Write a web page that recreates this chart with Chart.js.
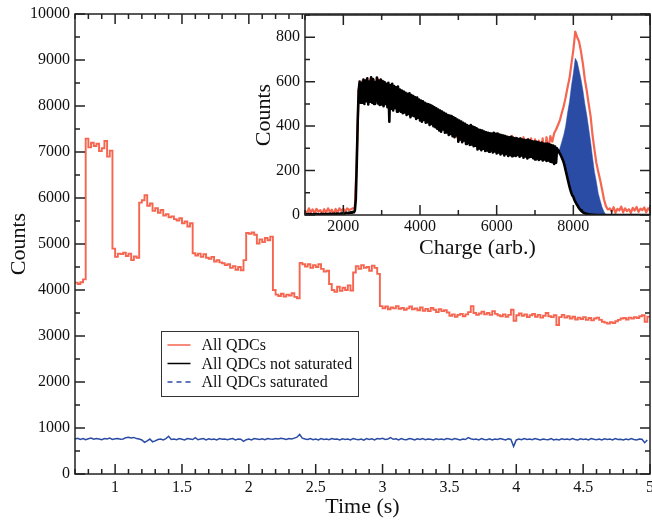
<!DOCTYPE html>
<html>
<head>
<meta charset="utf-8">
<script src="https://cdn.jsdelivr.net/npm/chart.js@4.4.0/dist/chart.umd.min.js"></script>
<style>
  body { margin: 0; background: #fff; }
  #wrap { position: relative; width: 652px; height: 521px; }
  canvas { position: absolute; top: 0; }
</style>
</head>
<body>
<div id="wrap">
  <canvas id="mainChart" width="652" height="521" style="left:0;width:652px;height:521px"></canvas>
  <canvas id="insetChart" width="406" height="262" style="left:246px;width:406px;height:262px"></canvas>
</div>
<script>
// main panel: counts per 0.02 s bin, first bin starts at 0.70 s
const binStart = 0.7;
const binWidth = 0.02;
const allQdcs = [
    4160, 4130, 4170, 4230, 7290, 7100, 7200, 7130, 7180, 7020,
    7080, 7240, 6900, 7030, 4900, 4720, 4790, 4780, 4810, 4740,
    4790, 4650, 4730, 4700, 5900, 5950, 6060, 5830, 5880, 5720,
    5780, 5680, 5740, 5620, 5650, 5580, 5600, 5540, 5510, 5560,
    5450, 5490, 5380, 5450, 4800, 4750, 4790, 4720, 4780, 4700,
    4680, 4720, 4620, 4650, 4600, 4580, 4540, 4560, 4480, 4520,
    4440, 4500, 4430, 4650, 5240, 5220, 5250, 5200, 5010, 5100,
    5040, 5130, 5080, 5160, 4000, 3900, 3870, 3920, 3860, 3900,
    3880, 3930, 3850, 3820, 4590, 4560, 4510, 4560, 4480, 4540,
    4500, 4560, 4460, 4400, 4420, 4130, 4000, 3960, 4070, 3980,
    4050, 4000, 4100, 3990, 4380, 4520, 4460, 4540, 4480, 4500,
    4420, 4530, 4480, 4350, 3650, 3600, 3640, 3580, 3620, 3600,
    3650, 3590, 3610, 3570, 3600, 3640, 3580, 3600, 3560, 3620,
    3550, 3590, 3540, 3610, 3570, 3520, 3580, 3540, 3560, 3510,
    3440, 3470, 3420, 3460, 3480, 3430, 3470, 3520, 3650, 3500,
    3460, 3490, 3530, 3470, 3500, 3460, 3540, 3480, 3450, 3430,
    3470, 3420, 3460, 3570, 3330, 3450, 3490, 3440, 3470, 3410,
    3450, 3480, 3420, 3460, 3400, 3440, 3500, 3430, 3410, 3450,
    3240, 3410, 3460, 3400, 3430, 3380, 3420, 3360, 3400, 3370,
    3410, 3350, 3390, 3340, 3380, 3400, 3350, 3310, 3290, 3270,
    3300, 3280, 3320, 3350, 3380, 3390, 3360, 3400, 3380, 3410,
    3390, 3430, 3450, 3310, 3420
];
const saturated = [
    760, 775, 750, 770, 745, 765, 780, 755, 770, 760,
    745, 770, 760, 780, 750, 765, 770, 755, 760, 790,
    800, 785, 795, 770, 760, 740, 690, 720, 760, 700,
    720, 750, 760, 740, 770, 820, 750, 760, 745, 770,
    755, 740, 770, 760, 750, 790, 745, 760, 770, 740,
    765, 750, 760, 740, 770, 755, 760, 745, 760, 770,
    740, 760, 755, 710, 745, 760, 740, 770, 760, 750,
    765, 745, 770, 760, 755, 770, 760, 775, 765, 750,
    770, 760, 780, 800, 860, 780, 760, 750, 770, 745,
    760, 740, 770, 750, 760, 745, 770, 755, 760, 740,
    765, 750, 760, 740, 770, 755, 745, 760, 735, 770,
    750, 765, 740, 770, 760, 775, 750, 760, 790, 755,
    765, 740, 770, 750, 745, 770, 760, 740, 765, 750,
    770, 745, 760, 755, 740, 765, 750, 760, 745, 770,
    760, 745, 770, 755, 740, 760, 750, 790, 765, 750,
    760, 740, 770, 750, 745, 765, 740, 760, 750, 770,
    755, 740, 765, 750, 600, 740, 760, 745, 770, 750,
    760, 745, 770, 755, 740, 760, 750, 745, 770, 740,
    755, 740, 765, 750, 760, 745, 770, 750, 740, 765,
    750, 760, 740, 770, 755, 745, 760, 740, 765, 750,
    760, 740, 770, 750, 755, 740, 760, 745, 770, 750,
    740, 760, 755, 680, 740
];
const notSaturated = []; // only in the key on the main panel

const timeTicks = [1, 1.5, 2, 2.5, 3, 3.5, 4, 4.5, 5];
const countTicks = [0, 1000, 2000, 3000, 4000, 5000, 6000, 7000, 8000, 9000, 10000];

// inset: charge spectra
// all QDCs, 50 unit bins from 1000
const chargeStart = 1000;
const allWidth = 50;
const specAll = [
    20, 5, 30, 12, 25, 8, 28, 15, 22, 6,
    26, 10, 30, 14, 24, 5, 27, 12, 30, 18,
    28, 15, 30, 22, 26, 30, 30, 250, 565, 510,
    605, 515, 610, 512, 612, 515, 608, 510, 615, 512,
    598, 505, 590, 500, 585, 490, 580, 480, 575, 475,
    555, 470, 550, 462, 543, 455, 535, 448, 525, 440,
    512, 430, 505, 422, 497, 412, 488, 405, 478, 392,
    468, 385, 458, 378, 450, 368, 442, 360, 432, 350,
    422, 340, 412, 332, 405, 325, 400, 320, 392, 315,
    382, 300, 378, 298, 372, 295, 368, 292, 364, 288,
    366, 282, 360, 278, 356, 275, 352, 272, 356, 270,
    348, 270, 345, 268, 350, 266, 342, 262, 345, 260,
    340, 256, 335, 260, 345, 265, 350, 290, 355, 330,
    368, 385, 405, 427, 460, 490, 530, 575, 615, 680,
    742, 825, 800, 780, 735, 680, 610, 560, 500, 445,
    360, 295, 235, 195, 157, 115, 70, 40, 25, 30,
    15, 35, 10, 28, 20, 38, 12, 30, 18, 26,
    10, 32, 20, 36, 14, 28, 22, 34, 12, 30,
    20
];
// not saturated, 25 unit bins from 1000
const notSatWidth = 25;
const specNotSat = [
    2, 4, 1, 3, 5, 2, 4, 3, 1, 4, 3, 2, 5, 1, 4, 2, 3, 5, 2, 4,
    3, 5, 2, 4, 3, 5, 2, 6, 4, 5, 3, 6, 4, 7, 5, 6, 4, 7, 6, 8,
    7, 5, 8, 10, 9, 8, 11, 9, 12, 10, 14, 12, 20, 70, 230, 420, 560, 600, 505, 595,
    505, 610, 500, 605, 512, 615, 498, 600, 510, 620, 505, 612, 500, 598, 515, 618, 502, 605, 495, 610,
    498, 603, 490, 598, 500, 590, 485, 595, 420, 585, 478, 590, 470, 580, 482, 575, 465, 578, 470, 565,
    465, 560, 458, 555, 462, 550, 450, 545, 455, 548, 440, 540, 448, 535, 445, 530, 432, 528, 438, 520,
    425, 515, 420, 512, 428, 505, 415, 500, 418, 498, 405, 495, 410, 490, 400, 485, 395, 480, 388, 475,
    380, 470, 375, 465, 385, 460, 370, 455, 372, 450, 360, 448, 365, 445, 355, 440, 350, 435, 358, 430,
    330, 425, 340, 420, 328, 415, 335, 410, 320, 405, 325, 400, 315, 405, 318, 398, 310, 395, 312, 390,
    295, 385, 300, 382, 292, 380, 298, 375, 288, 372, 290, 370, 285, 368, 292, 366, 282, 370, 286, 365,
    277, 366, 282, 362, 272, 360, 278, 358, 268, 355, 275, 352, 266, 350, 270, 352, 265, 348, 268, 345,
    266, 345, 270, 342, 262, 344, 268, 340, 258, 338, 264, 336, 255, 340, 260, 335, 262, 332, 256, 330,
    250, 330, 255, 328, 248, 325, 252, 326, 245, 322, 250, 320, 243, 322, 246, 318, 240, 315, 238, 312,
    230, 308, 235, 300, 288, 282, 276, 268, 258, 248, 236, 220, 200, 182, 163, 145, 128, 112, 98, 88,
    82, 70, 60, 52, 45, 38, 30, 25, 20, 16, 12, 10, 8, 6, 5, 4, 3, 2, 2, 1,
    1, 1, 1, 0, 0, 0, 0, 0, 0, 0, 0, 0, 0, 0, 0, 0, 0, 0, 0, 0,
    0, 0, 0, 0, 0, 0, 0, 0, 0, 0, 0, 0, 0, 0, 0, 0, 0, 0, 0, 0,
    0, 0, 0, 0, 0, 0, 0, 0, 0, 0, 0, 0, 0, 0, 0, 0, 0, 0, 0, 0,
    0
];
// saturated part only exists from 7600 up, 50 unit bins
const satStart = 7600;
const satWidth = 50;
const specSat = [
    285, 300, 330, 360, 400, 460, 510, 580, 637, 705,
    690, 650, 610, 560, 500, 450, 390, 330, 260, 195,
    150, 97, 65, 35, 15, 0
];
const chargeTicks = [2000, 4000, 6000, 8000];
const insetCountTicks = [0, 200, 400, 600, 800];

const RED = '#f5654f';
const BLUE = '#2b4ca5';
const FONT = "'Liberation Serif', 'DejaVu Serif', serif";
const INK = '#111';

function toPoints(vals, start, width, closeAt) {
    const pts = vals.map((v, i) => ({ x: +(start + i * width).toFixed(4), y: v }));
    if (closeAt !== undefined) pts.push({ x: closeAt, y: vals[vals.length - 1] });
    return pts;
}

// box round the plot with inward ticks (grace style)
const framePlugin = {
    id: 'frame',
    beforeDraw(chart, args, o) {
        if (!o.fill) return;
        const a = chart.chartArea;
        chart.ctx.save();
        chart.ctx.fillStyle = '#fff';
        chart.ctx.fillRect(a.left, a.top, a.right - a.left, a.bottom - a.top);
        chart.ctx.restore();
    },
    afterDraw(chart, args, o) {
        const { ctx, chartArea: a, scales: { x, y } } = chart;
        ctx.save();
        ctx.strokeStyle = '#222';
        ctx.lineWidth = 1.5;
        ctx.beginPath();
        for (let k = Math.ceil(x.min / o.xMinor - 1e-6); k <= Math.floor(x.max / o.xMinor + 1e-6); k++) {
            const px = x.getPixelForValue(k * o.xMinor);
            const len = k % o.xEvery === 0 ? o.major : o.minor;
            ctx.moveTo(px, a.bottom); ctx.lineTo(px, a.bottom - len);
            ctx.moveTo(px, a.top); ctx.lineTo(px, a.top + len);
        }
        for (let k = Math.ceil(y.min / o.yMinor - 1e-6); k <= Math.floor(y.max / o.yMinor + 1e-6); k++) {
            const py = y.getPixelForValue(k * o.yMinor);
            const len = k % o.yEvery === 0 ? o.major : o.minor;
            ctx.moveTo(a.left, py); ctx.lineTo(a.left + len, py);
            ctx.moveTo(a.right, py); ctx.lineTo(a.right - len, py);
        }
        ctx.stroke();
        ctx.strokeRect(a.left, a.top, a.right - a.left, a.bottom - a.top);
        ctx.restore();
    }
};

const keyPlugin = {
    id: 'qdcKey',
    afterDraw(chart, args, o) {
        const ctx = chart.ctx;
        ctx.save();
        ctx.lineWidth = 1;
        ctx.strokeStyle = '#333';
        ctx.strokeRect(o.left, o.top, o.width, o.height);
        ctx.font = '16px ' + FONT;
        ctx.textBaseline = 'middle';
        chart.data.datasets.forEach((ds, i) => {
            const yy = o.top + o.firstRow + i * o.rowGap;
            ctx.setLineDash(ds.keyDash || []);
            ctx.strokeStyle = ds.borderColor;
            ctx.lineWidth = 1.5;
            ctx.beginPath();
            ctx.moveTo(o.left + 6, yy);
            ctx.lineTo(o.left + 29, yy);
            ctx.stroke();
            ctx.setLineDash([]);
            ctx.fillStyle = INK;
            ctx.fillText(ds.label, o.left + 40, yy + 1);
        });
        ctx.restore();
    }
};

function axis(opts) {
    return {
        type: 'linear',
        min: opts.min,
        max: opts.max,
        grid: { display: false, drawTicks: false },
        border: { display: false },
        ticks: {
            font: { family: FONT, size: 16 },
            color: INK,
            padding: opts.pad,
            maxRotation: 0,
            autoSkip: false,
            callback: v => String(v)
        },
        afterBuildTicks: s => { s.ticks = opts.ticks.map(v => ({ value: v })); },
        afterFit: opts.fit,
        title: {
            display: true,
            text: opts.title,
            color: INK,
            font: { family: FONT, size: 22 },
            padding: opts.titlePad || { top: 0, bottom: 1 }
        }
    };
}

new Chart(document.getElementById('mainChart'), {
    type: 'line',
    data: {
        datasets: [{
            label: 'All QDCs',
            data: toPoints(allQdcs, binStart, binWidth, 5),
            borderColor: RED,
            borderWidth: 1.9,
            stepped: true,
            pointRadius: 0
        }, {
            label: 'All QDCs not saturated',
            data: notSaturated,
            borderColor: '#000',
            borderWidth: 2,
            pointRadius: 0
        }, {
            label: 'All QDCs saturated',
            data: toPoints(saturated, binStart, binWidth),
            borderColor: BLUE,
            borderWidth: 1.5,
            pointRadius: 0,
            keyDash: [5, 4]
        }]
    },
    options: {
        responsive: false,
        animation: false,
        layout: { padding: { top: 14, right: 2, left: 0, bottom: 0 } },
        plugins: {
            legend: { display: false },
            tooltip: { enabled: false },
            frame: { xMinor: 0.1, xEvery: 5, yMinor: 500, yEvery: 2, major: 10, minor: 5 },
            qdcKey: { left: 161.5, top: 331.5, width: 197, height: 65, firstRow: 13.5, rowGap: 18.5 }
        },
        scales: {
            x: axis({ min: 0.7, max: 5, ticks: timeTicks, pad: 4, title: 'Time (s)',
                fit: s => { s.height = 47; s.paddingLeft = 0; s.paddingRight = 0; } }),
            y: axis({ min: 0, max: 10000, ticks: countTicks, pad: 5, title: 'Counts',
                titlePad: { top: 6, bottom: 0 },
                fit: s => { s.width = 75; s.paddingTop = 0; s.paddingBottom = 0; } })
        }
    },
    plugins: [framePlugin, keyPlugin]
});

new Chart(document.getElementById('insetChart'), {
    type: 'line',
    data: {
        datasets: [{
            label: 'All QDCs',
            data: toPoints(specAll, chargeStart, allWidth),
            borderColor: RED,
            borderWidth: 2.2,
            borderJoinStyle: 'round',
            pointRadius: 0,
            order: 3
        }, {
            label: 'All QDCs not saturated',
            data: toPoints(specNotSat, chargeStart, notSatWidth),
            borderColor: '#000',
            borderWidth: 2.6,
            borderJoinStyle: 'round',
            pointRadius: 0,
            order: 1
        }, {
            label: 'All QDCs saturated',
            data: toPoints(specSat, satStart, satWidth),
            borderColor: BLUE,
            backgroundColor: BLUE,
            borderWidth: 0.5,
            pointRadius: 0,
            fill: 1,
            order: 2
        }]
    },
    options: {
        responsive: false,
        animation: false,
        layout: { padding: { top: 15, right: 2, left: 0, bottom: 0 } },
        plugins: {
            legend: { display: false },
            tooltip: { enabled: false },
            frame: { xMinor: 1000, xEvery: 2, yMinor: 100, yEvery: 2, major: 10, minor: 5, fill: true }
        },
        scales: {
            x: axis({ min: 1000, max: 10000, ticks: chargeTicks, pad: 2, title: 'Charge (arb.)',
                fit: s => { s.height = 47; s.paddingLeft = 0; s.paddingRight = 0; } }),
            y: axis({ min: 0, max: 900, ticks: insetCountTicks, pad: 5, title: 'Counts',
                titlePad: { top: 5, bottom: 0 },
                fit: s => { s.width = 59; s.paddingTop = 0; s.paddingBottom = 0; } })
        }
    },
    plugins: [framePlugin]
});
</script>
</body>
</html>
